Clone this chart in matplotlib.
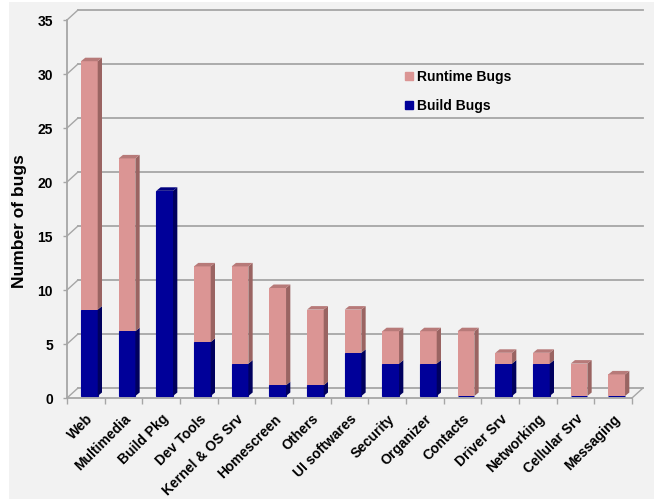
import matplotlib
matplotlib.use("Agg")
import matplotlib.pyplot as plt
from matplotlib.patches import Polygon, Rectangle
from matplotlib.lines import Line2D

categories = ["Web", "Multimedia", "Build Pkg", "Dev Tools", "Kernel & OS Srv",
              "Homescreen", "Others", "UI softwares", "Security", "Organizer",
              "Contacts", "Driver Srv", "Networking", "Cellular Srv", "Messaging"]
build_bugs = [8, 6, 19, 5, 3, 1, 1, 4, 3, 3, 0, 3, 3, 0, 0]
runtime_bugs = [23, 16, 0, 7, 9, 9, 7, 4, 3, 3, 6, 1, 1, 3, 2]
yticks = [0, 5, 10, 15, 20, 25, 30, 35]

W, H = 654, 499
fig = plt.figure(figsize=(W / 100, H / 100), dpi=100, facecolor="white")
fig.patches.append(Rectangle((9 / W, 0), 1, (H - 2) / H, transform=fig.transFigure,
                             facecolor="#F2F2F2", edgecolor="none", zorder=-10))

ax_l, ax_r, ax_b, ax_t = 67, 632, 398, 20
ax = fig.add_axes([ax_l / W, (H - ax_b) / H, (ax_r - ax_l) / W, (ax_b - ax_t) / H])
ax.set_facecolor("none")
n = len(categories)
ax.set_xlim(0, n)
ax.set_ylim(0, 35)
for s in ax.spines.values():
    s.set_visible(False)

sx = (ax_r - ax_l) / n      # px per x unit
sy = (ax_b - ax_t) / 35     # px per y unit
bx, by = 11 / sx, 10 / sy   # back wall offset
gc = "#A6A6A6"

# back wall gridlines and floor
for v in yticks:
    ax.plot([bx, n + bx], [v + by, v + by], color=gc, lw=1.3, clip_on=False, zorder=1)
    ax.plot([0, bx], [v, v + by], color=gc, lw=1.0, clip_on=False, zorder=1)
ax.plot([0, n], [0, 0], color=gc, lw=1.3, clip_on=False, zorder=1)
ax.plot([n, n + bx], [0, by], color=gc, lw=1.0, clip_on=False, zorder=1)
ax.plot([0, 0], [0, 35], color=gc, lw=1.3, clip_on=False, zorder=1)

# bars (pseudo 3D)
off_x = 14 / sx
bw = 16.7 / sx
base = 2 / sy
ddx, ddy = 4.3 / sx, 3.5 / sy
pink = ("#DB9594", "#9A6462", "#B77A79")
blue = ("#000099", "#00005E", "#00007E")

xs = [i + off_x + bw / 2 for i in range(n)]
ax.bar(xs, build_bugs, width=bw, bottom=[base] * n, color=blue[0],
       edgecolor=blue[0], linewidth=0.8, zorder=3)
ax.bar(xs, runtime_bugs, width=bw, bottom=[base + b for b in build_bugs],
       color=pink[0], linewidth=0, zorder=3)

for i in range(n):
    xl = i + off_x
    xr = xl + bw
    segs = [(base, base + build_bugs[i], blue),
            (base + build_bugs[i], base + build_bugs[i] + runtime_bugs[i], pink)]
    for y0, y1, col in segs:
        if y1 > y0:
            ax.add_patch(Polygon([(xr, y0), (xr + ddx, y0 + ddy), (xr + ddx, y1 + ddy), (xr, y1)],
                                 closed=True, facecolor=col[1], edgecolor="none", zorder=3,
                                 clip_on=False))
    top = base + build_bugs[i] + runtime_bugs[i]
    tcol = pink if runtime_bugs[i] > 0 else blue
    ax.add_patch(Polygon([(xl, top), (xl + ddx, top + ddy), (xr + ddx, top + ddy), (xr, top)],
                         closed=True, facecolor=tcol[2], edgecolor="none", zorder=3,
                         clip_on=False))

# ticks
ax.set_yticks(yticks)
ax.set_yticklabels([str(v) for v in yticks], fontsize=10, fontweight="bold",
                   family="Liberation Sans")
ax.tick_params(axis="y", length=3, width=1, color=gc, pad=7)
ax.set_xticks(range(n + 1))
ax.set_xticklabels([])
ax.tick_params(axis="x", which="major", length=4, width=1, color=gc)
ax.set_xticks([i + 0.5 for i in range(n)], minor=True)
ax.set_xticklabels(categories, minor=True, rotation=45, ha="right",
                   rotation_mode="anchor", fontsize=10, fontweight="bold",
                   family="Liberation Sans")
ax.tick_params(axis="x", which="minor", length=0, pad=10)

ax.set_ylabel("Number of bugs", fontsize=12.5, fontweight="bold",
              family="Liberation Sans")
ax.yaxis.set_label_coords((27 - ax_l) / (ax_r - ax_l), (ax_b - 221) / (ax_b - ax_t))

handles = [Line2D([], [], marker="s", color=pink[0], linestyle="None", markersize=6),
           Line2D([], [], marker="s", color=blue[0], linestyle="None", markersize=6)]
fig.legend(handles, ["Runtime Bugs", "Build Bugs"], loc="upper left",
           bbox_to_anchor=(392 / W, 1 - 57 / H), frameon=False,
           prop={"family": "Liberation Sans", "weight": "bold", "size": 10},
           handlelength=0.6, handletextpad=0.3, labelspacing=1.1)

fig.savefig("out.png", dpi=100, facecolor=fig.get_facecolor())
